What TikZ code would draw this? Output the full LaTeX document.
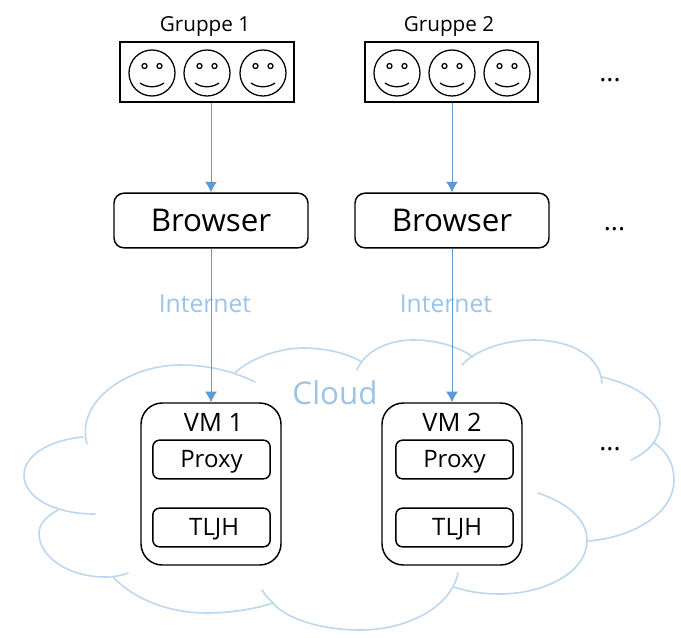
\documentclass[tikz,border=0pt]{standalone}
\usepackage{fontspec}
\setmainfont{Open Sans}
\usetikzlibrary{arrows.meta}

\definecolor{arrowblue}{HTML}{5B9BD5}
\definecolor{labelblue}{HTML}{9DC3E6}
\definecolor{cloudblue}{HTML}{BDD7EE}

\begin{document}
\begin{tikzpicture}[
    x=0.75pt,
    y=-0.75pt,
    groupbox/.style={
        draw,
        line width=1.5pt,
        minimum width=130pt,
        minimum height=45pt
    },
    browserbox/.style={
        draw,
        rounded corners=7.5pt,
        line width=1.1pt,
        minimum width=145.5pt,
        minimum height=41pt,
        text height=17.2pt,
        text depth=0pt,
        font=\fontsize{23.5}{28}\selectfont
    },
    vmbox/.style={
        draw,
        rounded corners=16pt,
        line width=1.1pt,
        minimum width=105pt,
        minimum height=121.5pt
    },
    servicebox/.style={
        draw,
        rounded corners=5pt,
        line width=1.1pt,
        minimum width=88pt,
        minimum height=29pt,
        text height=11.8pt,
        text depth=0pt,
        font=\fontsize{18}{21}\selectfont
    },
    grouplabel/.style={font=\fontsize{15.5}{18}\selectfont},
    vmlabel/.style={font=\fontsize{19}{23}\selectfont},
    netlabel/.style={text=labelblue, font=\fontsize{18.5}{22}\selectfont},
    dotslabel/.style={font=\fontsize{20}{24}\selectfont},
    arrow/.style={-{Latex[length=8pt,width=9pt]}, arrowblue, line width=0.75pt},
    cloudline/.style={cloudblue, line width=1.2pt, line cap=round},
    face/.pic={
        \draw[line width=0.95pt] (0,0) circle (23);
        \draw[line width=0.95pt] (-7.5,-7) circle (2.5);
        \draw[line width=0.95pt] (7.5,-7) circle (2.5);
        \draw[line width=0.95pt] (-12,10) .. controls (-5,15) and (5,15) .. (12,10);
    }
]
\useasboundingbox (0,0) rectangle (681,637);

% Cloud
\draw[cloudline] (87,444) .. controls (75,400) and (130,365) .. (180,365) .. controls (210,365) and (235,372) .. (255,382);
\draw[cloudline] (235,373) .. controls (250,358) and (280,348) .. (303,348) .. controls (322,348) and (345,352) .. (362,362);
\draw[cloudline] (357,370) .. controls (365,350) and (390,340) .. (413,340) .. controls (440,340) and (460,348) .. (473,357);
\draw[cloudline] (462,365) .. controls (475,350) and (505,340) .. (533,340) .. controls (570,340) and (600,355) .. (602,383);
\draw[cloudline] (602,377) .. controls (635,385) and (660,400) .. (660,423) .. controls (660,440) and (648,452) .. (631,460);
\draw[cloudline] (653,442) .. controls (668,452) and (674,465) .. (674,480) .. controls (674,515) and (630,538) .. (588,541);
\draw[cloudline] (538,493) .. controls (565,502) and (587,518) .. (587,540) .. controls (587,575) and (540,594) .. (500,594) .. controls (485,594) and (468,592) .. (454,587);
\draw[cloudline] (458,573) .. controls (452,605) and (410,630) .. (360,630) .. controls (320,630) and (285,618) .. (273,603) .. controls (269,599) and (265,595) .. (262,590);
\draw[cloudline] (113,577) .. controls (135,600) and (170,613) .. (207,613) .. controls (230,613) and (255,609) .. (273,603);
\draw[cloudline] (58,510) .. controls (45,517) and (39,525) .. (39,533) .. controls (39,558) and (70,577) .. (105,577) .. controls (113,577) and (120,576) .. (128,573);
\draw[cloudline] (83,437) .. controls (50,440) and (24,455) .. (24,475) .. controls (24,498) and (55,514) .. (95,514);

% Groups
\node[groupbox] (group1) at (207,72) {};
\node[groupbox] (group2) at (451.5,72) {};
\foreach \x in {152,207,263} {
    \pic at (\x,73) {face};
}
\foreach \x in {397,452,507} {
    \pic at (\x,73) {face};
}
\node[grouplabel] (grouptext1) at (205,26.5) {Gruppe 1};
\node[grouplabel] (grouptext2) at (449,26.5) {Gruppe 2};

% Browsers
\node[browserbox] (browser1) at (211,220.5) {Browser};
\node[browserbox] (browser2) at (452,220.5) {Browser};

% VMs
\node[vmbox] (vm1) at (211,484) {};
\node[vmbox] (vm2) at (452,484) {};
\node[vmlabel] (vmtext1) at (213.5,422.5) {VM 1};
\node[vmlabel] (vmtext2) at (452,422.5) {VM 2};

\node[servicebox] (proxy1) at (211.5,459.5) {Proxy};
\node[servicebox] (tljh1) at (211.5,527.5) {\hspace{4pt}TLJH};
\node[servicebox] (proxy2) at (454.5,459.5) {Proxy};
\node[servicebox] (tljh2) at (454.5,527.5) {\hspace{4pt}TLJH};

% Labels
\node[netlabel] (net1) at (205,304) {Internet};
\node[netlabel] (net2) at (446,304) {Internet};
\node[netlabel, font=\fontsize{23.5}{28}\selectfont] (cloudtext) at (335,393) {Cloud};
\node[dotslabel] (dots1) at (610,80) {...};
\node[dotslabel] (dots2) at (614.5,229) {...};
\node[dotslabel] (dots3) at (610,449) {...};

% Arrows
\draw[arrow] (browser1.north |- group1.south) -- (browser1.north);
\draw[arrow] (browser2.north |- group2.south) -- (browser2.north);
\draw[arrow] (browser1) -- (vm1);
\draw[arrow] (browser2) -- (vm2);

\end{tikzpicture}
\end{document}
